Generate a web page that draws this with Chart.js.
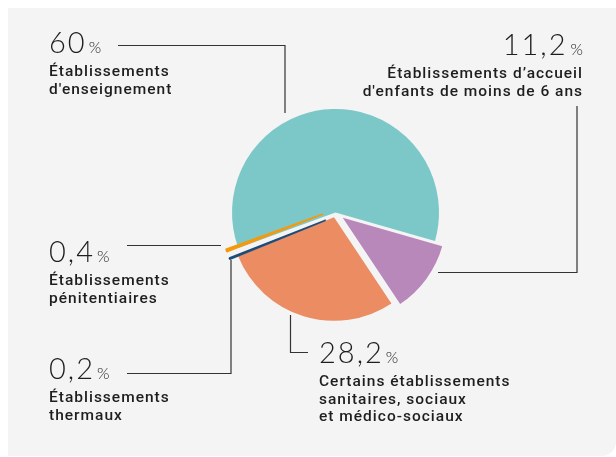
<!DOCTYPE html>
<html>
<head>
<meta charset="utf-8">
<script src="https://cdn.jsdelivr.net/npm/chart.js@4"></script>
<style>
  html, body { margin: 0; padding: 0; background: #fff; }
  #wrap { position: relative; width: 616px; height: 457px; overflow: hidden; }
  #card { position: absolute; left: 8px; top: 8px; width: 608px; height: 448px; background: #f4f4f4; border-bottom-right-radius: 14px; }
  #chart { position: absolute; left: 0; top: 0; }
</style>
</head>
<body>
<div id="wrap">
  <div id="card"></div>
  <canvas id="chart" width="616" height="457"></canvas>
</div>
<script>
// data
const categories = [
    "Établissements d'enseignement",
    "Établissements d’accueil d'enfants de moins de 6 ans",
    'Certains établissements sanitaires, sociaux et médico-sociaux',
    'Établissements thermaux',
    'Établissements pénitentiaires'
];
const shares = [60, 11.2, 28.2, 0.2, 0.4];
const categoryLines = [
    ['Établissements', "d'enseignement"],
    ['Établissements d’accueil', "d'enfants de moins de 6 ans"],
    ['Certains établissements', 'sanitaires, sociaux', 'et médico-sociaux'],
    ['Établissements', 'thermaux'],
    ['Établissements', 'pénitentiaires']
];

// styles
const sliceColors = ['#7cc8c9', '#b888bb', '#eb8c62', '#1c4d78', '#f39a10'];
const sliceBorders = [0, 0, 0, 1.6, 1.6];
const explode = [0, 9, 5, 12, 12];   // push out along the slice middle, px
const nudge = [0, 0, 0, -3.5, 3];    // sideways push, px

// callout text anchor + leader line
const callouts = [
    { x: 49, y: 53, align: 'left', path: [[118, 45.5], [285, 45.5], [285, 113]] },
    { x: 583, y: 55, align: 'right', path: [[577, 106], [577, 272.5], [438, 272.5]] },
    { x: 319, y: 363, align: 'left', path: [[290.5, 315], [290.5, 352.5], [308, 352.5]] },
    { x: 49, y: 379, align: 'left', path: [[127, 373.5], [231, 373.5], [231, 260]] },
    { x: 49, y: 262, align: 'left', path: [[127, 245.5], [221, 245.5]] }
];

const numFont = '300 29px Lato';
const pctFont = '300 16px Lato';
const textFont = '500 15.5px Roboto';

const explodePlugin = {
    id: 'explode',
    afterDatasetUpdate(chart, args) {
        args.meta.data.forEach((arc, i) => {
            const mid = (arc.startAngle + arc.endAngle) / 2;
            arc.x += Math.cos(mid) * explode[i] - Math.sin(mid) * nudge[i];
            arc.y += Math.sin(mid) * explode[i] + Math.cos(mid) * nudge[i];
        });
    }
};

const calloutPlugin = {
    id: 'callouts',
    afterDraw(chart) {
        const ctx = chart.ctx;
        ctx.save();
        ctx.strokeStyle = '#333';
        ctx.lineWidth = 1.2;
        ctx.fillStyle = '#1e1e1e';
        ctx.textBaseline = 'alphabetic';
        callouts.forEach((c, i) => {
            ctx.beginPath();
            c.path.forEach((p, j) => j ? ctx.lineTo(p[0], p[1]) : ctx.moveTo(p[0], p[1]));
            ctx.stroke();

            const num = String(shares[i]).replace('.', ',');
            ctx.font = numFont;
            ctx.letterSpacing = '2px';
            const nw = ctx.measureText(num).width;
            ctx.font = pctFont;
            ctx.letterSpacing = '0px';
            const pw = ctx.measureText('%').width;
            let nx = c.x, px = c.x + nw + 2;
            if (c.align === 'right') {
                px = c.x - pw;
                nx = px - 3 - nw;
            }
            ctx.textAlign = 'left';
            ctx.fillText('%', px, c.y);
            ctx.font = numFont;
            ctx.letterSpacing = '2px';
            ctx.fillText(num, nx, c.y);

            ctx.font = textFont;
            ctx.letterSpacing = '1px';
            ctx.textAlign = c.align;
            categoryLines[i].forEach((line, k) => {
                ctx.fillText(line, c.x, c.y + 23 + k * 17.5);
            });
        });
        ctx.restore();
    }
};

new Chart(document.getElementById('chart'), {
    type: 'pie',
    data: {
        labels: categories,
        datasets: [{
            data: shares,
            backgroundColor: sliceColors,
            borderColor: sliceColors,
            borderWidth: sliceBorders,
            radius: 103.5
        }]
    },
    options: {
        responsive: false,
        animation: false,
        events: [],
        rotation: -110,
        layout: { padding: { left: 230, right: 175, top: 107, bottom: 139 } },
        plugins: {
            legend: { display: false },
            tooltip: { enabled: false }
        }
    },
    plugins: [explodePlugin, calloutPlugin]
});
</script>
</body>
</html>
